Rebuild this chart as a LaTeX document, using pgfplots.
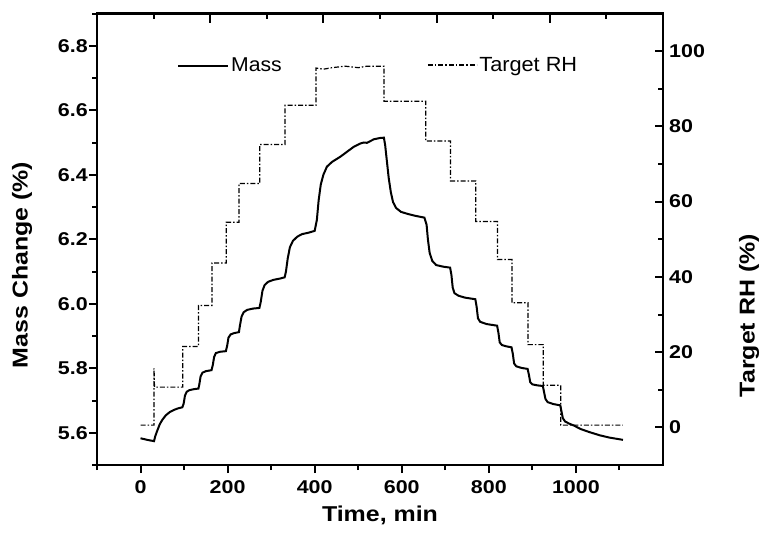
\documentclass[border=0pt]{standalone}
\usepackage{fontspec}
\setmainfont[FakeStretch=1.16]{Liberation Sans}
\newfontfamily\legfont[FakeStretch=1.06]{Liberation Sans}
\usepackage{pgfplots}
\pgfplotsset{compat=1.18}

\pgfplotsset{
  common/.style={
    scale only axis, width=566pt, height=451.5pt,
    xmin=-100, xmax=1200,
    axis line style={line width=2.2pt},
    every tick/.style={line width=2pt, black},
    major tick length=8pt, minor tick length=5pt,
    /pgf/number format/assume math mode=true,
    /pgf/number format/1000 sep={},
    tick label style={font=\fontsize{18.5}{19}\selectfont\bfseries},
    label style={font=\fontsize{21.5}{22}\selectfont\bfseries},
  },
}

\begin{document}
\begin{tikzpicture}
% mass, left axis
\begin{axis}[common, name=main,
  ymin=5.5, ymax=6.9,
  xtick={0,200,...,1000}, minor xtick={-100,100,...,1100},
  ytick={5.6,5.8,...,6.81}, minor ytick={5.5,5.7,...,6.91},
  xtick pos=bottom, ytick pos=left, tick align=outside,
  yticklabel style={/pgf/number format/fixed, /pgf/number format/fixed zerofill, /pgf/number format/precision=1, inner sep=1pt},
  xticklabel style={inner sep=1pt, yshift=-6pt},
  xlabel={Time, min},
  xlabel style={at={(axis description cs:0.5,-0.1107)}, anchor=center},
  ylabel={Mass Change (\%)},
  ylabel style={at={(axis description cs:-0.1325,0.443)}, anchor=center},
  legend style={at={(0.1413,0.8844)}, anchor=west, draw=none, fill=none,
    inner sep=0pt, font=\legfont\fontsize{20}{20}\selectfont},
  legend image code/.code={\draw[#1] (0pt,0pt) -- (50pt,0pt);},
]
\addplot[black, line width=2pt] coordinates {
(0,5.583)(15,5.578)(31,5.574)(34,5.59)(38,5.605)(44,5.626)(50,5.640)(58,5.654)(67,5.664)(77,5.671)(87,5.676)(96,5.679)
(99,5.69)(102,5.715)(106,5.727)(112,5.732)(122,5.735)(133,5.737)
(135,5.75)(138,5.775)(142,5.786)(150,5.791)(163,5.794)
(166,5.81)(169,5.835)(173,5.847)(182,5.851)(196,5.853)
(199,5.87)(202,5.895)(207,5.905)(215,5.909)(226,5.912)
(228,5.93)(232,5.96)(237,5.974)(245,5.981)(258,5.985)(273,5.987)
(276,6.005)(280,6.04)(285,6.058)(293,6.068)(305,6.074)(320,6.078)(331,6.082)
(334,6.10)(338,6.14)(343,6.175)(350,6.195)(360,6.208)(371,6.216)(385,6.220)(400,6.226)
(405,6.26)(409,6.32)(414,6.37)(420,6.40)(428,6.425)(440,6.440)(459,6.456)(475,6.472)(490,6.487)(505,6.497)(513,6.500)(520,6.499)(536,6.510)(550,6.514)(559,6.515)
(562,6.49)(566,6.44)(570,6.39)(575,6.345)(580,6.315)(587,6.297)(598,6.285)(615,6.278)(630,6.273)(652,6.267)
(657,6.245)(660,6.20)(664,6.158)(670,6.133)(679,6.120)(695,6.115)(711,6.112)
(714,6.09)(717,6.05)(721,6.033)(730,6.025)(745,6.019)(769,6.014)
(772,5.99)(775,5.955)(780,5.944)(795,5.937)(819,5.932)
(822,5.91)(825,5.88)(830,5.872)(840,5.868)(852,5.865)
(855,5.845)(858,5.815)(863,5.806)(875,5.801)(889,5.798)
(892,5.78)(895,5.757)(900,5.750)(911,5.747)(924,5.745)
(927,5.725)(930,5.705)(935,5.695)(948,5.689)(964,5.685)
(967,5.665)(970,5.645)(975,5.635)(985,5.628)(996,5.622)(1010,5.612)(1031,5.602)(1055,5.592)(1077,5.585)(1108,5.578)
};
\legend{Mass}
\end{axis}

% target RH, right axis
\begin{axis}[common,
  ymin=-10, ymax=110,
  axis x line=none, axis y line*=right, tick align=inside,
  ytick={0,20,...,100}, minor ytick={-10,10,...,110},
  yticklabel style={inner sep=1pt, xshift=5pt},
  ylabel={Target RH (\%)},
  ylabel style={at={(axis description cs:1.152,0.331)}, anchor=center},
  legend style={at={(0.583,0.886)}, anchor=west, draw=none, fill=none,
    inner sep=0pt, font=\legfont\fontsize{20.5}{21}\selectfont},
  legend image code/.code={\draw[#1] (0pt,0pt) -- (49pt,0pt);},
]
\addplot[black, line width=1.2pt, dash pattern=on 5pt off 2pt on 1.5pt off 2pt] coordinates {
(0,0.6)(31,0.6)(31,15.7)(32,10.7)(97,10.7)(97,21.5)(133,21.5)(133,32.4)(164,32.4)(164,43.7)
(197,43.7)(197,54.5)(226,54.5)(226,64.8)(274,64.8)(274,75.2)(332,75.2)(332,85.6)(403,85.6)
(403,95.5)(420,95.2)(440,95.6)(470,96.0)(500,95.6)(520,96.0)(559,96.0)
(559,86.7)(655,86.7)(655,76.1)(712,76.1)(712,65.5)(770,65.5)(770,54.7)(820,54.7)(820,44.6)
(853,44.6)(853,33.1)(890,33.1)(890,22)(925,22)(925,11.2)(965,11.2)(965,0.6)(1108,0.6)
};
\legend{Target RH}
\end{axis}

% top axis with its own ticks
\begin{axis}[common,
  xmin=0, xmax=10, ymin=0, ymax=1,
  axis y line=none, axis x line*=top, tick align=inside,
  xtick={0,2,...,10}, minor xtick={1,3,...,9}, xticklabels={},
  major tick length=10pt, minor tick length=6pt,
]
\end{axis}
\pgfresetboundingbox
\useasboundingbox (main.south west) ++(-97pt,-74pt) rectangle ++(763pt,539pt);
\end{tikzpicture}
\end{document}
